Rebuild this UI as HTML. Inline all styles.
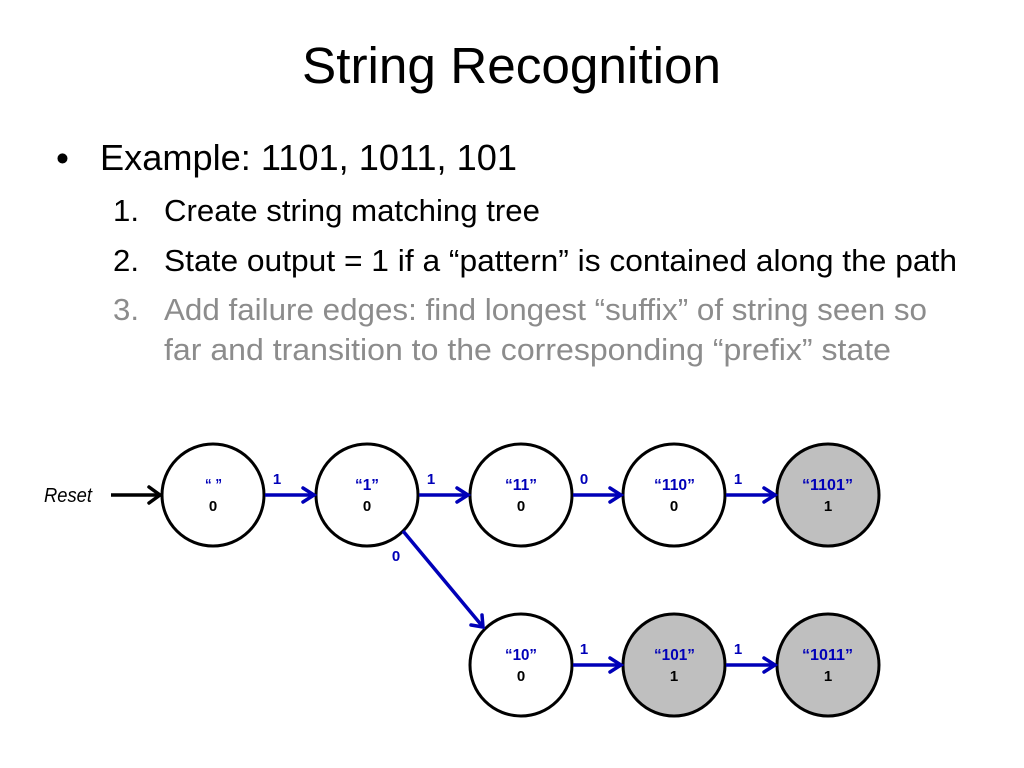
<!DOCTYPE html>
<html><head><meta charset="utf-8"><style>
html,body{margin:0;padding:0;background:#fff}
svg{display:block}
text{font-family:"Liberation Sans",sans-serif}
.s{font-size:16px;font-weight:bold;fill:#0000b8;text-anchor:start}
.o{font-size:15px;font-weight:bold;fill:#000;text-anchor:middle}
.l{font-size:15px;font-weight:bold;fill:#0000b8;text-anchor:middle}
.b{font-size:31px;fill:#000}
.g{font-size:31px;fill:#8c8c8c}
.n{fill:#fff;stroke:#000;stroke-width:3}
.f{fill:#bfbfbf;stroke:#000;stroke-width:3}
.e{stroke:#0000b8;stroke-width:3.5;fill:none}
.h{stroke:#0000b8;stroke-width:3.5;fill:none;stroke-linecap:round}
</style></head><body>
<svg width="1024" height="768" viewBox="0 0 1024 768" xmlns="http://www.w3.org/2000/svg">
<text x="302" y="83" font-size="51" textLength="419" lengthAdjust="spacingAndGlyphs">String Recognition</text>
<text x="56" y="171" font-size="37">•</text>
<text x="100" y="170" font-size="36" textLength="417" lengthAdjust="spacingAndGlyphs">Example: 1101, 1011, 101</text>
<text class="b" x="113" y="221" textLength="26" lengthAdjust="spacingAndGlyphs">1.</text>
<text class="b" x="164" y="221" textLength="376" lengthAdjust="spacingAndGlyphs">Create string matching tree</text>
<text class="b" x="113" y="271" textLength="26" lengthAdjust="spacingAndGlyphs">2.</text>
<text class="b" x="164" y="271" textLength="793" lengthAdjust="spacingAndGlyphs">State output = 1 if a “pattern” is contained along the path</text>
<text class="g" x="113" y="320" textLength="26" lengthAdjust="spacingAndGlyphs">3.</text>
<text class="g" x="164" y="320" textLength="763" lengthAdjust="spacingAndGlyphs">Add failure edges: find longest “suffix” of string seen so</text>
<text class="g" x="164" y="360" textLength="727" lengthAdjust="spacingAndGlyphs">far and transition to the corresponding “prefix” state</text>

<text x="44" y="502" font-size="20" font-style="italic" textLength="48" lengthAdjust="spacingAndGlyphs">Reset</text>
<line x1="111" y1="495" x2="160" y2="495" stroke="#000" stroke-width="3.5"/>
<path d="M149 487 L160 495 L149 503" stroke="#000" stroke-width="3.5" fill="none" stroke-linecap="round"/>

<circle class="n" cx="213" cy="495" r="51"/>
<circle class="n" cx="367" cy="495" r="51"/>
<circle class="n" cx="521" cy="495" r="51"/>
<circle class="n" cx="674" cy="495" r="51"/>
<circle class="f" cx="828" cy="495" r="51"/>
<circle class="n" cx="521" cy="665" r="51"/>
<circle class="f" cx="674" cy="665" r="51"/>
<circle class="f" cx="828" cy="665" r="51"/>

<line class="e" x1="265" y1="495" x2="314" y2="495"/>
<path class="h" d="M303 488 L314 495 L303 502"/>
<line class="e" x1="419" y1="495" x2="468" y2="495"/>
<path class="h" d="M457 488 L468 495 L457 502"/>
<line class="e" x1="573" y1="495" x2="621" y2="495"/>
<path class="h" d="M610 488 L621 495 L610 502"/>
<line class="e" x1="726" y1="495" x2="775" y2="495"/>
<path class="h" d="M764 488 L775 495 L764 502"/>
<line class="e" x1="573" y1="665" x2="621" y2="665"/>
<path class="h" d="M610 658 L621 665 L610 672"/>
<line class="e" x1="726" y1="665" x2="775" y2="665"/>
<path class="h" d="M764 658 L775 665 L764 672"/>
<line class="e" x1="403" y1="531" x2="483" y2="627"/>
<path class="h" d="M471 625 L483 627 L482 615"/>

<text class="l" x="277" y="484">1</text>
<text class="l" x="431" y="484">1</text>
<text class="l" x="584" y="484">0</text>
<text class="l" x="738" y="484">1</text>
<text class="l" x="584" y="654">1</text>
<text class="l" x="738" y="654">1</text>
<text class="l" x="396" y="561">0</text>

<text class="s" x="205" y="490" textLength="17" lengthAdjust="spacingAndGlyphs">“ ”</text><text class="o" x="213" y="511">0</text>
<text class="s" x="355" y="490" textLength="24" lengthAdjust="spacingAndGlyphs">“1”</text><text class="o" x="367" y="511">0</text>
<text class="s" x="505" y="490" textLength="32" lengthAdjust="spacingAndGlyphs">“11”</text><text class="o" x="521" y="511">0</text>
<text class="s" x="654" y="490" textLength="41" lengthAdjust="spacingAndGlyphs">“110”</text><text class="o" x="674" y="511">0</text>
<text class="s" x="802" y="490" textLength="51" lengthAdjust="spacingAndGlyphs">“1101”</text><text class="o" x="828" y="511">1</text>
<text class="s" x="505" y="660" textLength="32" lengthAdjust="spacingAndGlyphs">“10”</text><text class="o" x="521" y="681">0</text>
<text class="s" x="654" y="660" textLength="41" lengthAdjust="spacingAndGlyphs">“101”</text><text class="o" x="674" y="681">1</text>
<text class="s" x="802" y="660" textLength="51" lengthAdjust="spacingAndGlyphs">“1011”</text><text class="o" x="828" y="681">1</text>
</svg>
</body></html>
